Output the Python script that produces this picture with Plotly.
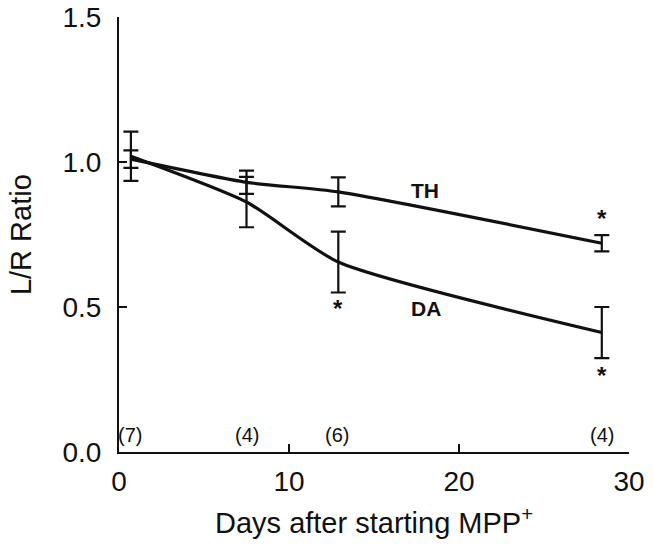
import plotly.graph_objects as go

days = [0.7, 7.5, 12.9, 28.4]
th_mean = [1.01, 0.93, 0.897, 0.72]
th_err = [0.03, 0.04, 0.05, 0.028]
da_mean = [1.02, 0.862, 0.655, 0.412]
da_err = [0.085, 0.087, 0.105, 0.088]
n_labels = ["(7)", "(4)", "(6)", "(4)"]
n_x = [0.65, 7.5, 12.8, 28.4]
x_ticks = [0, 10, 20, 30]
y_ticks = [0, 0.5, 1.0, 1.5]
y_tick_text = ["0.0", "0.5", "1.0", "1.5"]
x_title = "Days after starting MPP<sup>+</sup>"
y_title = "L/R Ratio"

ink = "#111111"
font_family = "Liberation Sans, Arial, sans-serif"

fig = go.Figure()
fig.add_trace(go.Scatter(
    x=days, y=da_mean, mode="lines", line=dict(color=ink, width=3.2, shape="spline", smoothing=0.6),
    error_y=dict(type="data", array=da_err, color=ink, thickness=2.2, width=7.5),
    showlegend=False, name="DA", hoverinfo="skip"))
fig.add_trace(go.Scatter(
    x=days, y=th_mean, mode="lines", line=dict(color=ink, width=3.2, shape="spline", smoothing=0.6),
    error_y=dict(type="data", array=th_err, color=ink, thickness=2.2, width=7.5),
    showlegend=False, name="TH", hoverinfo="skip"))

annotations = []
for xv, t in zip(n_x, n_labels):
    annotations.append(dict(x=xv, y=0.058, text=t, showarrow=False,
                            font=dict(size=20, color=ink, family=font_family)))
annotations.append(dict(x=18.0, y=0.903, text="<b>TH</b>", showarrow=False,
                        font=dict(size=21, color=ink, family=font_family)))
annotations.append(dict(x=18.06, y=0.495, text="<b>DA</b>", showarrow=False,
                        font=dict(size=21, color=ink, family=font_family)))
for xv, yv in [(12.9, 0.495), (28.4, 0.805), (28.4, 0.265)]:
    annotations.append(dict(x=xv, y=yv, text="<b>*</b>", showarrow=False,
                            font=dict(size=24, color=ink, family=font_family)))
# axis titles as paper annotations for precise placement
annotations.append(dict(xref="paper", yref="paper", x=0.5, y=-0.158, xanchor="center", yanchor="middle",
                        text=x_title, showarrow=False, font=dict(size=29, color=ink, family=font_family)))
annotations.append(dict(xref="paper", yref="paper", x=-0.193, y=0.5, xanchor="center", yanchor="middle",
                        text=y_title, textangle=-90, showarrow=False,
                        font=dict(size=29, color=ink, family=font_family)))

fig.update_layout(
    width=654, height=548,
    margin=dict(l=119, r=25, t=17, b=96),
    paper_bgcolor="white", plot_bgcolor="white",
    font=dict(family=font_family, color=ink),
    annotations=annotations,
    xaxis=dict(range=[0, 30], tickvals=x_ticks, ticktext=[str(v) for v in x_ticks],
               ticks="inside", ticklen=8, tickwidth=2, tickcolor=ink, automargin=False,
               showline=True, linewidth=2, linecolor=ink, showgrid=False, zeroline=False,
               tickfont=dict(size=28), ticklabelstandoff=3),
    yaxis=dict(range=[0, 1.5], tickvals=y_ticks, ticktext=y_tick_text,
               ticks="inside", ticklen=8, tickwidth=2, tickcolor=ink, automargin=False,
               showline=True, linewidth=2, linecolor=ink, showgrid=False, zeroline=False,
               tickfont=dict(size=28), ticklabelstandoff=10),
)

fig.write_html("out.html", config={"displayModeBar": False},
               post_script="document.body.style.margin='0';document.body.style.padding='0';")
